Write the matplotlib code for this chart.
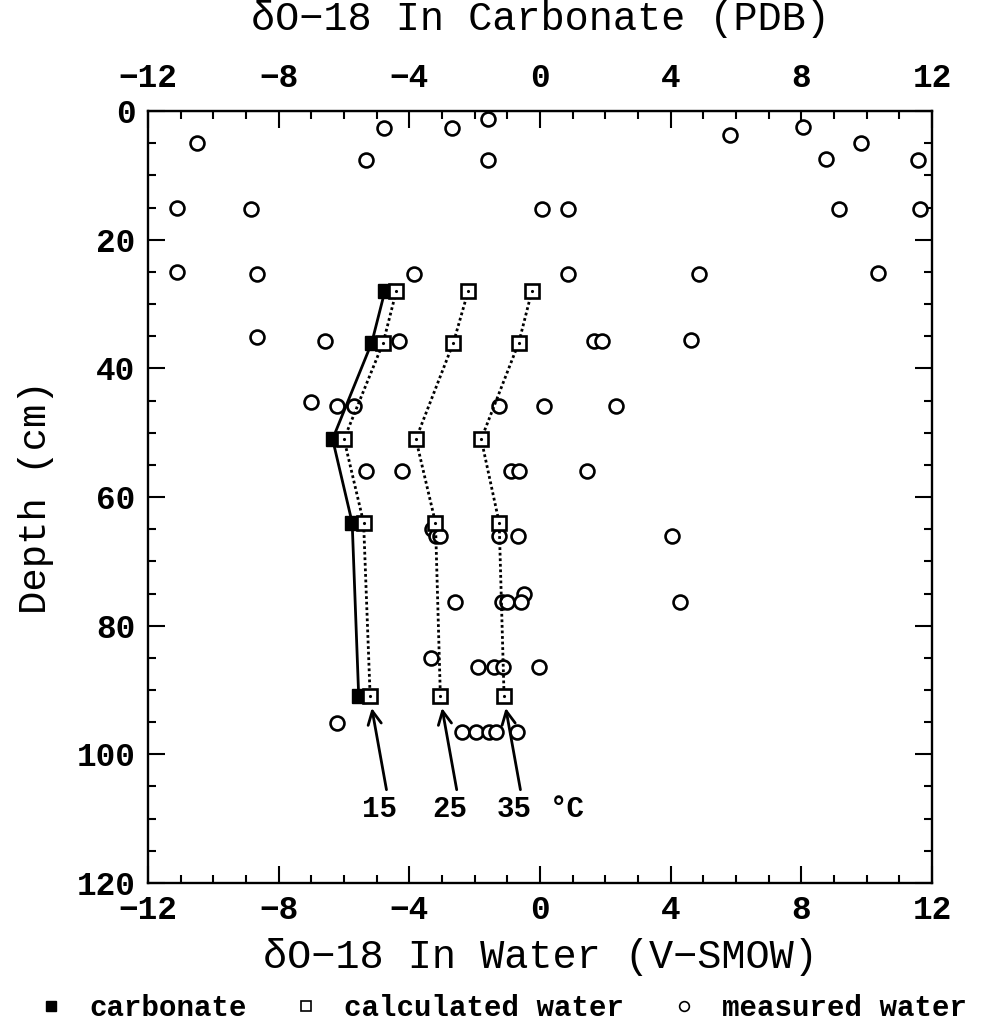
import matplotlib
matplotlib.use("Agg")
import matplotlib.pyplot as plt
from matplotlib.lines import Line2D
from matplotlib.ticker import MultipleLocator

plt.rcParams['font.family'] = ['Liberation Mono', 'DejaVu Sans Mono']

# Sample depths (cm) for carbonate and calculated water
depth_calc = [28, 36, 51, 64, 91]
carbonate = [-4.75, -5.15, -6.35, -5.75, -5.55]
water_15C = [-4.40, -4.80, -6.00, -5.40, -5.20]
water_25C = [-2.20, -2.65, -3.80, -3.20, -3.05]
water_35C = [-0.25, -0.65, -1.80, -1.25, -1.10]

# Measured soil water delta O-18 (V-SMOW) and sampling depth (cm)
measured_x = [-1.60,
              -4.77, -2.70, 8.06,
              5.82,
              -10.50, 9.81,
              -5.34, -1.60, 8.74, 11.58,
              -11.10, -8.86, 0.05, 0.85, 9.15, 11.63,
              -11.12, -8.67, -3.85, 0.87, 4.88, 10.36,
              -8.65,
              -6.57, -4.31, 1.66, 1.91, 4.63,
              -7.01,
              -6.22, -5.68, -1.25, 0.12, 2.33,
              -5.33, -4.23, -0.90, -0.63, 1.43,
              -3.32,
              -3.18, -3.05, -1.25, -0.68, 4.04,
              -0.49,
              -2.60, -1.15, -1.02, -0.58, 4.29,
              -3.35,
              -1.89, -1.41, -1.12, -0.03,
              -6.20,
              -2.38, -1.96, -1.55, -1.35, -0.71]
measured_depth = [1.3,
                  2.7, 2.7, 2.5,
                  3.7,
                  5.0, 5.0,
                  7.6, 7.6, 7.5, 7.6,
                  15.1, 15.3, 15.3, 15.3, 15.3, 15.3,
                  25.0, 25.3, 25.3, 25.3, 25.3, 25.2,
                  35.1,
                  35.7, 35.7, 35.7, 35.7, 35.6,
                  45.2,
                  45.8, 45.8, 45.8, 45.8, 45.8,
                  55.9, 55.9, 55.9, 55.9, 55.9,
                  65.0,
                  66.0, 66.0, 66.0, 66.0, 66.0,
                  75.0,
                  76.3, 76.3, 76.3, 76.3, 76.3,
                  85.1,
                  86.5, 86.5, 86.5, 86.5,
                  95.1,
                  96.6, 96.6, 96.6, 96.6, 96.6]

temp_labels = ['15', '25', '35']
x_ticks = [-12, -8, -4, 0, 4, 8, 12]
y_ticks = [0, 20, 40, 60, 80, 100, 120]

fig = plt.figure(figsize=(9.84, 10.32), dpi=100)
ax = fig.add_axes([0.1504, 0.1444, 0.7968, 0.748])

# measured water
ax.plot(measured_x, measured_depth, linestyle='none', marker='o', ms=10,
        mfc='white', mec='black', mew=1.9, zorder=3)

# carbonate profile
ax.plot(carbonate, depth_calc, color='black', lw=2.0, marker='s', ms=9.5,
        mfc='black', mec='black', zorder=4)

# calculated water at three temperatures
for series in (water_15C, water_25C, water_35C):
    ax.plot(series, depth_calc, color='black', lw=2.0, linestyle=(0, (1, 1)),
            marker='s', ms=9.5, mfc='white', mec='black', mew=1.9, zorder=5)
    ax.plot(series, depth_calc, linestyle='none', marker='.', ms=2.5,
            color='black', zorder=6)

# temperature arrows
label_y = 108.5
tail_y = 105.5
for lab, series in zip(temp_labels, (water_15C, water_25C, water_35C)):
    xb = series[-1]
    ax.annotate('', xy=(xb + 0.05, depth_calc[-1] + 1.8),
                xytext=(xb + 0.5, tail_y),
                arrowprops=dict(arrowstyle='->', lw=2.0, color='black',
                                mutation_scale=24, shrinkA=0, shrinkB=0))
    ax.text(xb + 0.3, label_y, lab, ha='center', va='center',
            fontsize=21, fontweight='bold')
ax.text(water_35C[-1] + 1.95, label_y, '°C', ha='center', va='center',
        fontsize=21, fontweight='bold')

ax.set_xlim(-12, 12)
ax.set_ylim(120, 0)
ax.set_xticks(x_ticks)
ax.set_yticks(y_ticks)
ax.xaxis.set_minor_locator(MultipleLocator(1))
ax.yaxis.set_minor_locator(MultipleLocator(5))
ax.tick_params(which='both', direction='in', top=True, right=True, width=1.5)
ax.tick_params(which='major', length=12, labelsize=23.5, pad=9)
ax.tick_params(which='minor', length=6)
for lbl in ax.get_xticklabels() + ax.get_yticklabels():
    lbl.set_fontweight('bold')
for sp in ax.spines.values():
    sp.set_linewidth(1.7)

secax = ax.secondary_xaxis('top')
secax.set_xticks(x_ticks)
secax.tick_params(direction='in', length=0, labelsize=23.5, pad=12)
for lbl in secax.get_xticklabels():
    lbl.set_fontweight('bold')
secax.set_xlabel('δO−18 In Carbonate (PDB)', fontsize=29, labelpad=24)

ax.set_xlabel('δO−18 In Water (V−SMOW)', fontsize=29, labelpad=8)
ax.set_ylabel('Depth (cm)', fontsize=28, labelpad=16)

handles = [
    Line2D([], [], linestyle='none', marker='s', ms=7, mfc='black', mec='black'),
    Line2D([], [], linestyle='none', marker='s', ms=7, mfc='white', mec='black', mew=1.2),
    Line2D([], [], linestyle='none', marker='o', ms=7, mfc='white', mec='black', mew=1.2),
]
fig.legend(handles, ['carbonate', 'calculated water', 'measured water'],
           loc='lower center', bbox_to_anchor=(0.51, -0.016), ncol=3,
           frameon=False, handlelength=1.0, handletextpad=0.8,
           columnspacing=1.55, prop={'size': 21, 'weight': 'bold'})

fig.savefig('out.png', dpi=100)
